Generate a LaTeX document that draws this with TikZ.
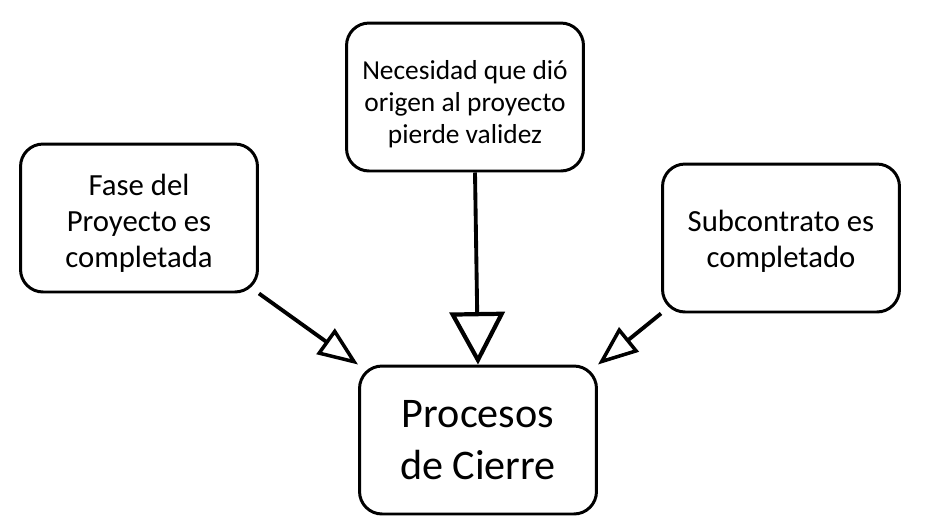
\documentclass[tikz,border=0pt]{standalone}
\usepackage{fontspec}
\setmainfont{Carlito}
\usetikzlibrary{arrows.meta}
\newcommand{\lowered}[2]{\raisebox{-#1}[\height][\depth]{\begin{tabular}{@{}c@{}}#2\end{tabular}}}

\begin{document}
\begin{tikzpicture}[x=0.02cm,y=-0.02cm,
    event/.style={draw, line width=1.7pt, rounded corners=0.45cm, align=center,
      minimum width=4.74cm, minimum height=2.96cm, inner sep=0pt,
      font=\fontsize{17.5}{20.5}\selectfont},
    cause/.style={event, font=\fontsize{15.6}{18.3}\selectfont},
    result/.style={event, font=\fontsize{24}{29.5}\selectfont},
    flow/.style={line width=2.2pt, -{Triangle[open, length=0.8cm, width=0.62cm, line width=2pt]}},
    bigflow/.style={flow, -{Triangle[open, length=1.05cm, width=1.1cm, line width=2.4pt]}}]
    \useasboundingbox (0,0) rectangle (944,529);
    \node[event] (fase) at (139,218) {\lowered{3.4pt}{Fase del\\Proyecto es\\completada}};
    \node[cause] (necesidad) at (465,97) {\lowered{4.5pt}{Necesidad que dió\\origen al proyecto\\pierde validez}};
    \node[event] (subcontrato) at (781,238) {\lowered{2.3pt}{Subcontrato es\\completado}};
    \node[result] (cierre) at (478,440) {Procesos\\de Cierre};
    \draw[flow] (fase.south east) -- (cierre.north west);
    \draw[bigflow] (necesidad.south) ++(10,0) -- (cierre.north);
    \draw[flow] (subcontrato.south west) -- (cierre.north east);
  \end{tikzpicture}
\end{document}
